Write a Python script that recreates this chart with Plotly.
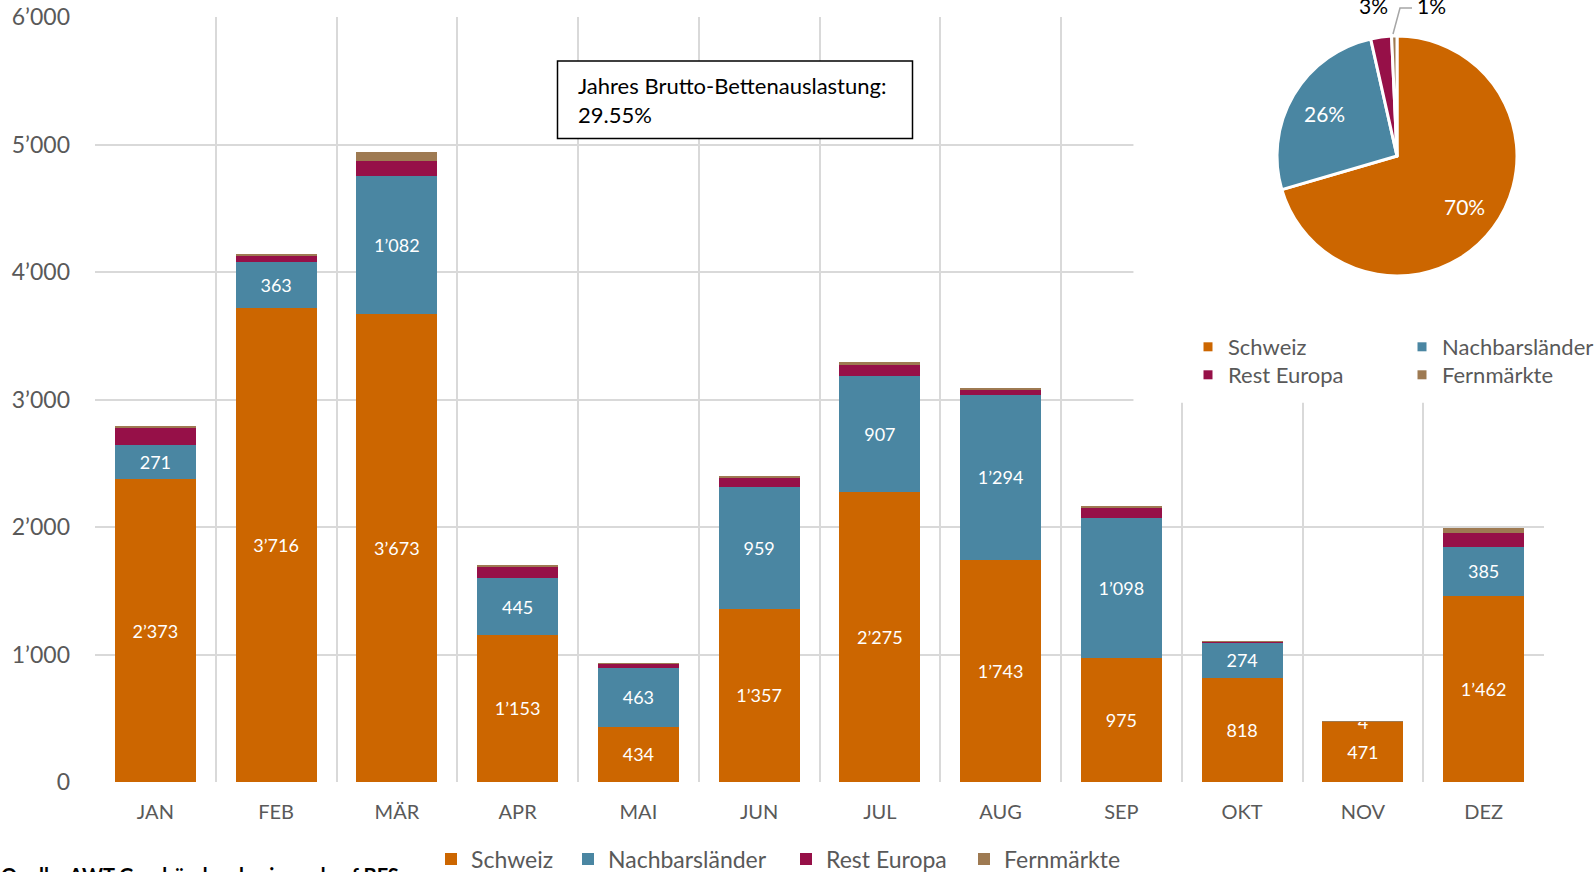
import math
import plotly.graph_objects as go

months = ["JAN", "FEB", "MÄR", "APR", "MAI", "JUN", "JUL", "AUG", "SEP", "OKT", "NOV", "DEZ"]
schweiz = [2373, 3716, 3673, 1153, 434, 1357, 2275, 1743, 975, 818, 471, 1462]
nachbar = [271, 363, 1082, 445, 463, 959, 907, 1294, 1098, 274, 4, 385]
rest_europa = [133, 50, 113, 92, 29, 73, 90, 38, 80, 8, 2, 104]
fernmaerkte = [16, 5, 70, 8, 2, 13, 24, 13, 12, 5, 1, 40]

series_names = ["Schweiz", "Nachbarsländer", "Rest Europa", "Fernmärkte"]
colors = ["#CC6600", "#4A86A2", "#961048", "#9E7A52"]
auslastung_text = "Jahres Brutto-Bettenauslastung:<br>29.55%"
source_text = "Quelle: AWT Graubünden, basierend auf BFS"

FONT = "Lato, 'Open Sans', sans-serif"
GRAY = "#595959"
GRID = "#D9D9D9"

W, H = 1595, 872
ML, MR, MT, MB = 95, 51, 17, 90
PW, PH = W - ML - MR, H - MT - MB


def px_x(p):
    return (p - ML) / PW


def px_y(p):
    return (H - MB - p) / PH


fig = go.Figure()

data = [schweiz, nachbar, rest_europa, fernmaerkte]
bar_legends = ["legend", "legend6", "legend7", "legend8"]
for i, (name, vals) in enumerate(zip(series_names, data)):
    labelled = i < 2
    fig.add_trace(go.Bar(
        x=months, y=vals, name=name,
        marker=dict(color=colors[i], line=dict(width=0)),
        texttemplate="%{y:,}" if labelled else None,
        textposition="inside" if labelled else "none",
        insidetextanchor="middle",
        constraintext="none",
        textangle=0,
        textfont=dict(color="white", size=18, family=FONT),
        legend=bar_legends[i],
        hoverinfo="x+y+name",
    ))

# Pie of annual totals
totals = [sum(v) for v in data]
grand = sum(totals)
PCX, PCY, PR = 1397, 156, 120
fig.add_trace(go.Pie(
    labels=series_names, values=totals, sort=False, direction="clockwise",
    rotation=0,
    marker=dict(colors=colors, line=dict(color="white", width=3)),
    textinfo="none",
    domain=dict(x=[px_x(PCX - PR), px_x(PCX + PR)], y=[px_y(PCY + PR), px_y(PCY - PR)]),
    showlegend=False,
    hoverinfo="label+percent",
))

# pie percentage labels
pie_annotations = []
cum = 0.0
for i, t in enumerate(totals):
    frac = t / grand
    mid = (cum + frac / 2) * 2 * math.pi
    cum += frac
    pct = f"{round(frac * 100)}%"
    if i < 2:
        r = 0.70 * PR
        lx = PCX + r * math.sin(mid)
        ly = PCY - r * math.cos(mid)
        pie_annotations.append(dict(
            text=pct, xref="paper", yref="paper", x=px_x(lx), y=px_y(ly),
            xanchor="center", yanchor="middle", showarrow=False,
            font=dict(size=21, color="white", family=FONT)))
    elif i == 2:
        pie_annotations.append(dict(
            text=pct, xref="paper", yref="paper", x=px_x(1373), y=px_y(5),
            xanchor="center", yanchor="middle", showarrow=False,
            font=dict(size=21, color="black", family=FONT)))
    else:
        pie_annotations.append(dict(
            text=pct, xref="paper", yref="paper", x=px_x(1415), y=px_y(5),
            xanchor="left", yanchor="middle", showarrow=False,
            font=dict(size=21, color="black", family=FONT)))

# legend entries for the pie (2 x 2 grid)
pie_leg_pos = [(1188, 347), (1402, 347), (1188, 375), (1402, 375)]
for i, name in enumerate(series_names):
    fig.add_trace(go.Scatter(
        x=[None], y=[None], mode="markers", name=name,
        marker=dict(symbol="square", size=9, color=colors[i]),
        legend=f"legend{i + 2}",
        hoverinfo="skip",
    ))

legend_layouts = {}
for i in range(4):
    lx, ly = pie_leg_pos[i]
    legend_layouts["legend2" if i == 0 else f"legend{i + 2}"] = dict(
        x=px_x(lx), xanchor="left", y=px_y(ly), yanchor="middle",
        font=dict(size=22, color=GRAY, family=FONT), bgcolor="rgba(0,0,0,0)",
    )

bar_leg_x = [431, 568, 786, 964]
for i, key in enumerate(bar_legends):
    legend_layouts[key] = dict(
        x=px_x(bar_leg_x[i]), xanchor="left", y=px_y(859), yanchor="middle",
        font=dict(size=23, color=GRAY, family=FONT), bgcolor="rgba(0,0,0,0)",
    )

fig.update_layout(
    width=W, height=H,
    margin=dict(l=ML, r=MR, t=MT, b=MB, autoexpand=False),
    paper_bgcolor="white", plot_bgcolor="white",
    barmode="stack", bargap=0.33,
    separators=".’",
    font=dict(family=FONT, color=GRAY, size=20),
    xaxis=dict(
        type="category", tickson="boundaries", showgrid=True,
        gridcolor=GRID, gridwidth=1.5, ticks="", showline=False,
        tickfont=dict(size=20, color=GRAY, family=FONT),
        ticklabelstandoff=16, range=[-0.5, 11.5],
    ),
    yaxis=dict(
        range=[0, 6000], dtick=1000, tickformat=",", showgrid=True,
        gridcolor=GRID, gridwidth=1.5, zeroline=False, showline=False,
        ticks="", tickfont=dict(size=23, color=GRAY, family=FONT),
        ticklabelstandoff=24,
    ),
    shapes=[
        # white area behind the pie (hides gridlines)
        dict(type="rect", xref="x", yref="y", x0=8.1, x1=12.5, y0=2975, y1=6500,
             fillcolor="white", line=dict(width=0), layer="between"),
        # text box
        dict(type="rect", xref="paper", yref="paper",
             x0=px_x(557.5), x1=px_x(912.5), y0=px_y(138.5), y1=px_y(61),
             fillcolor="white", line=dict(color="black", width=1.5), layer="above"),
        # leader line for the smallest pie slice
        dict(type="path", xref="paper", yref="paper",
             path=f"M {px_x(1393)},{px_y(34)} L {px_x(1400)},{px_y(8)} L {px_x(1412)},{px_y(8)}",
             line=dict(color="#A6A6A6", width=1.5), layer="above"),
    ],
    annotations=[
        dict(text=auslastung_text, xref="paper", yref="paper", x=px_x(576), y=px_y(100),
             xanchor="left", yanchor="middle", align="left", showarrow=False,
             font=dict(size=22, color="black", family=FONT)),
        dict(text=source_text, xref="paper", yref="paper", x=px_x(-1), y=px_y(861),
             xanchor="left", yanchor="top", align="left", showarrow=False,
             font=dict(size=20, color="black", family=FONT, weight="bold")),
    ] + pie_annotations,
    **legend_layouts,
)

fig.write_html(
    "out.html",
    config={"displayModeBar": False},
    post_script="document.body.style.margin='0';document.body.style.overflow='hidden';",
)
